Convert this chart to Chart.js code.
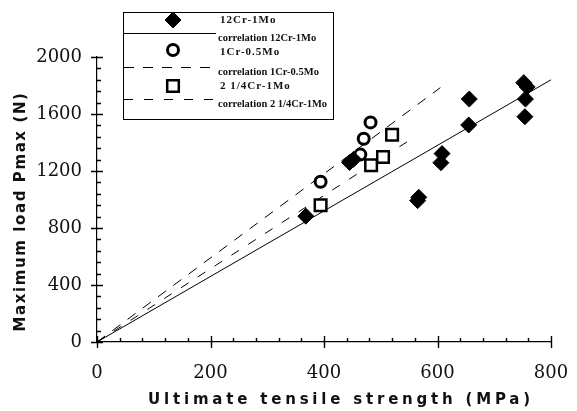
<!DOCTYPE html>
<html>
<head>
<meta charset="utf-8">
<title>Pmax vs UTS</title>
<script src="https://cdn.jsdelivr.net/npm/chart.js@4/dist/chart.umd.min.js"></script>
<style>
    html, body { margin: 0; padding: 0; background: #fff; }
    #wrap { width: 577px; height: 411px; position: relative; }
</style>
</head>
<body>
<div id="wrap"><canvas id="chartCarga"></canvas></div>
<script>
// measured points, UTS in MPa / Pmax in N
const uts12Cr = [368, 445, 452, 565, 567, 606, 608, 655, 656, 752, 758, 755, 754];
const pmax12Cr = [883, 1260, 1282, 992, 1015, 1258, 1322, 1523, 1705, 1820, 1790, 1705, 1581];

const uts1Cr = [394, 464, 470, 482];
const pmax1Cr = [1125, 1315, 1426, 1541];

const uts2Cr = [394, 483, 504, 520];
const pmax2Cr = [960, 1240, 1298, 1454];

// correlation lines through the origin: [start, end]
const corrUts12Cr = [0, 800];
const corrPmax12Cr = [0, 1840];
const corrUts1Cr = [0, 605];
const corrPmax1Cr = [0, 1785];
const corrUts2Cr = [0, 562];
const corrPmax2Cr = [0, 1445];

const xTicksMajor = [0, 200, 400, 600, 800];
const yTicksMajor = [0, 400, 800, 1200, 1600, 2000];

const toPoints = (xs, ys) => xs.map((x, i) => ({ x: x, y: ys[i] }));

const datasets = [
    {
        label: "12Cr-1Mo",
        data: toPoints(uts12Cr, pmax12Cr),
        pointStyle: "rectRot",
        pointRadius: 8,
        backgroundColor: "#000",
        borderColor: "#000",
        borderWidth: 1,
        showLine: false,
        order: 0,
    },
    {
        label: "1Cr-0.5Mo",
        data: toPoints(uts1Cr, pmax1Cr),
        pointStyle: "circle",
        pointRadius: 5.5,
        backgroundColor: "#fff",
        borderColor: "#000",
        borderWidth: 3,
        showLine: false,
        order: 0,
    },
    {
        label: "2 1/4Cr-1Mo",
        data: toPoints(uts2Cr, pmax2Cr),
        pointStyle: "rect",
        pointRadius: 8.2,
        backgroundColor: "#fff",
        borderColor: "#000",
        borderWidth: 2.5,
        showLine: false,
        order: 0,
    },
    {
        label: "correlation 12Cr-1Mo",
        data: toPoints(corrUts12Cr, corrPmax12Cr),
        showLine: true,
        borderColor: "#000",
        borderWidth: 1,
        pointRadius: 0,
        order: 1,
    },
    {
        label: "correlation 1Cr-0.5Mo",
        data: toPoints(corrUts1Cr, corrPmax1Cr),
        showLine: true,
        borderColor: "#000",
        borderWidth: 1,
        borderDash: [10, 9],
        pointRadius: 0,
        order: 1,
    },
    {
        label: "correlation 2 1/4Cr-1Mo",
        data: toPoints(corrUts2Cr, corrPmax2Cr),
        showLine: true,
        borderColor: "#000",
        borderWidth: 1,
        borderDash: [9, 11],
        pointRadius: 0,
        order: 1,
    },
];

// axis ticks: majors cross the axis, minors point inward
const ejesPlugin = {
    id: "ejes",
    afterDraw(chart) {
        const { ctx, chartArea, scales } = chart;
        const sx = scales.x, sy = scales.y;
        ctx.save();
        ctx.strokeStyle = "#000";
        ctx.lineWidth = 1.4;
        ctx.beginPath();
        for (let v = 0; v <= 800; v += 40) {
            const px = Math.round(sx.getPixelForValue(v)) + 0.5;
            const major = xTicksMajor.includes(v);
            ctx.moveTo(px, chartArea.bottom + (major ? 6 : 0));
            ctx.lineTo(px, chartArea.bottom - (major ? 6 : 4));
        }
        for (let v = 0; v <= 2000; v += 80) {
            const py = Math.round(sy.getPixelForValue(v)) + 0.5;
            const major = yTicksMajor.includes(v);
            ctx.moveTo(chartArea.left - (major ? 6 : 0), py);
            ctx.lineTo(chartArea.left + (major ? 6 : 4), py);
        }
        ctx.stroke();

        // axis titles
        ctx.fillStyle = "#111";
        ctx.font = 'bold 15px "DejaVu Sans"';
        ctx.letterSpacing = "3.8px";
        ctx.textAlign = "center";
        ctx.textBaseline = "middle";
        ctx.fillText("Ultimate tensile strength (MPa)", (chartArea.left + chartArea.right) / 2 + 17, 400);
        ctx.translate(21, (chartArea.top + chartArea.bottom) / 2 + 12);
        ctx.rotate(-Math.PI / 2);
        ctx.letterSpacing = "1.6px";
        ctx.fillText("Maximum load Pmax (N)", 0, 0);
        ctx.restore();
    },
};

// boxed legend in the upper left of the plot
const leyendaPlugin = {
    id: "leyenda",
    afterDraw(chart) {
        const { ctx } = chart;
        const box = { x: 123, y: 12, w: 210, h: 107 };
        const markX = 173, textX = 220;
        const rows = [
            { ds: 0, y: 20, ty: 20 },
            { ds: 3, y: 33, ty: 38 },
            { ds: 1, y: 50, ty: 52 },
            { ds: 4, y: 67, ty: 72 },
            { ds: 2, y: 86, ty: 86 },
            { ds: 5, y: 99, ty: 104 },
        ];
        ctx.save();
        ctx.fillStyle = "#fff";
        ctx.fillRect(box.x, box.y, box.w, box.h);
        ctx.strokeStyle = "#000";
        ctx.lineWidth = 1;
        ctx.strokeRect(box.x + 0.5, box.y + 0.5, box.w, box.h);
        ctx.textAlign = "left";
        ctx.textBaseline = "middle";
        ctx.fillStyle = "#111";
        rows.forEach((r) => {
            const ds = chart.data.datasets[r.ds];
            if (ds.showLine) {
                ctx.save();
                ctx.strokeStyle = "#000";
                ctx.lineWidth = 1;
                ctx.setLineDash(ds.borderDash || []);
                ctx.beginPath();
                ctx.moveTo(box.x + 1, r.y + 0.5);
                ctx.lineTo(textX - 4, r.y + 0.5);
                ctx.stroke();
                ctx.restore();
                ctx.font = 'bold 10.5px "Liberation Serif"';
                ctx.letterSpacing = "0px";
                ctx.fillText(ds.label, textX - 2, r.ty);
            } else {
                ctx.save();
                ctx.fillStyle = ds.backgroundColor;
                ctx.strokeStyle = ds.borderColor;
                ctx.lineWidth = ds.borderWidth;
                Chart.helpers.drawPoint(ctx, {
                    pointStyle: ds.pointStyle,
                    radius: ds.pointRadius,
                    rotation: 0,
                    borderWidth: ds.borderWidth,
                }, markX, r.y);
                ctx.restore();
                ctx.font = 'bold 11px "Liberation Serif"';
                ctx.letterSpacing = "1px";
                ctx.fillText(ds.label, textX, r.ty);
            }
        });
        ctx.restore();
    },
};

const configCarga = {
    type: "scatter",
    data: { datasets: datasets },
    options: {
        responsive: true,
        maintainAspectRatio: false,
        animation: false,
        devicePixelRatio: 1,
        layout: { padding: { left: 0, top: 57, right: 26, bottom: 0 } },
        plugins: {
            legend: { display: false },
            tooltip: { enabled: false },
        },
        scales: {
            x: {
                type: "linear",
                min: 0,
                max: 800,
                afterFit: (scale) => { scale.height = 69; },
                ticks: {
                    stepSize: 200,
                    padding: 4,
                    color: "#111",
                    font: { family: "DejaVu Serif", size: 18, lineHeight: 3 },
                    callback: (v) => String(v),
                },
                grid: { drawOnChartArea: false, drawTicks: false },
                border: { color: "#000", width: 1.2 },
            },
            y: {
                type: "linear",
                min: 0,
                max: 2000,
                afterFit: (scale) => { scale.width = 97; },
                ticks: {
                    stepSize: 400,
                    padding: 15,
                    color: "#111",
                    font: { family: "DejaVu Serif", size: 18 },
                    callback: (v) => String(v),
                },
                grid: { drawOnChartArea: false, drawTicks: false },
                border: { color: "#000", width: 1.2 },
            },
        },
    },
    plugins: [ejesPlugin, leyendaPlugin],
};

new Chart(document.getElementById("chartCarga"), configCarga);
</script>
</body>
</html>
